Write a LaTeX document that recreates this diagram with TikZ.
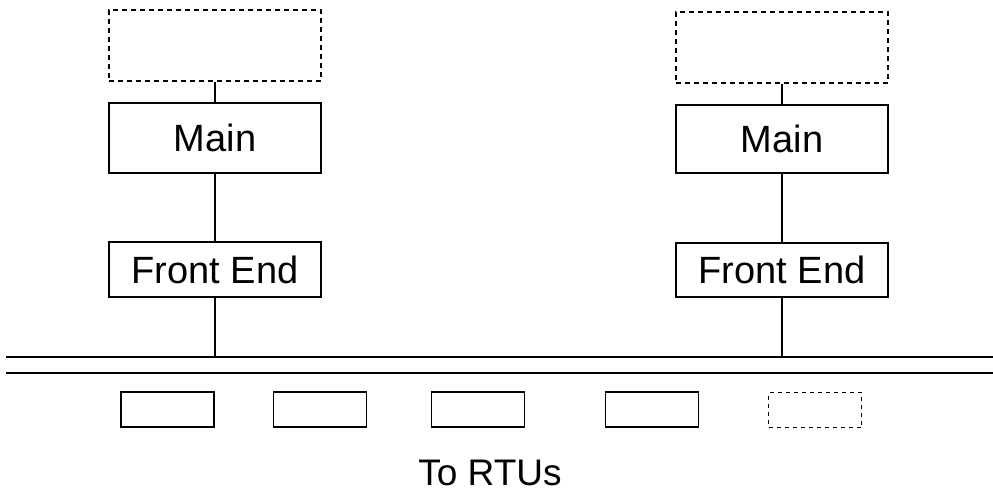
\documentclass[tikz,border=0pt]{standalone}
\usepackage{fontspec}
\setmainfont{Liberation Sans}
\tikzset{
  unit/.style={draw, line width=1.5pt, inner sep=0pt, font=\fontsize{38}{40}\selectfont},
  spare/.style={unit, dash pattern=on 5pt off 4pt},
  bigbox/.style={minimum width=212pt},
  rtu/.style={draw, line width=1.5pt, minimum width=93pt, minimum height=35pt, inner sep=0pt},
  link/.style={line width=1.3pt},
  bus/.style={line width=2pt}
}
\begin{document}
\begin{tikzpicture}[x=1pt,y=-1pt]
  \useasboundingbox (0,0) rectangle (993,497);

  % left control centre
  \node[spare, bigbox, minimum height=71pt] (spareL) at (215,45.5) {};
  \node[unit, bigbox, minimum height=70pt] (mainL) at (215,138) {Main};
  \node[unit, bigbox, minimum height=55pt] (feL) at (215,269.5) {Front End};

  % right control centre
  \node[spare, bigbox, minimum height=71pt] (spareR) at (782,47.5) {};
  \node[unit, bigbox, minimum height=68pt] (mainR) at (782,139) {Main};
  \node[unit, bigbox, minimum height=54pt] (feR) at (782,270) {Front End};

  % communication bus
  \coordinate (busL) at (6,357);
  \coordinate (busR) at (993,357);
  \coordinate (bus2L) at (6,373);
  \coordinate (bus2R) at (993,373);
  \draw[bus] (busL) -- (busR);
  \draw[bus] (bus2L) -- (bus2R);
  \coordinate (tapL) at (215,357);
  \coordinate (tapR) at (782,357);

  % vertical links
  \draw[link] (spareL) -- (mainL);
  \draw[link] (mainL) -- (feL);
  \draw[link] (feL) -- (tapL);
  \draw[link] (spareR) -- (mainR);
  \draw[link] (mainR) -- (feR);
  \draw[link] (feR) -- (tapR);

  % remote terminal units
  \node[rtu] (rtu1) at (167.5,409.5) {};
  \node[rtu] (rtu2) at (320,409.5) {};
  \node[rtu] (rtu3) at (478,409.5) {};
  \node[rtu] (rtu4) at (652,409.5) {};
  \node[rtu, dash pattern=on 4pt off 4pt] (rtu5) at (815,410) {};

  \node[anchor=base, inner sep=0pt, font=\fontsize{37}{40}\selectfont] (label) at (490,485) {To RTUs};
\end{tikzpicture}
\end{document}
